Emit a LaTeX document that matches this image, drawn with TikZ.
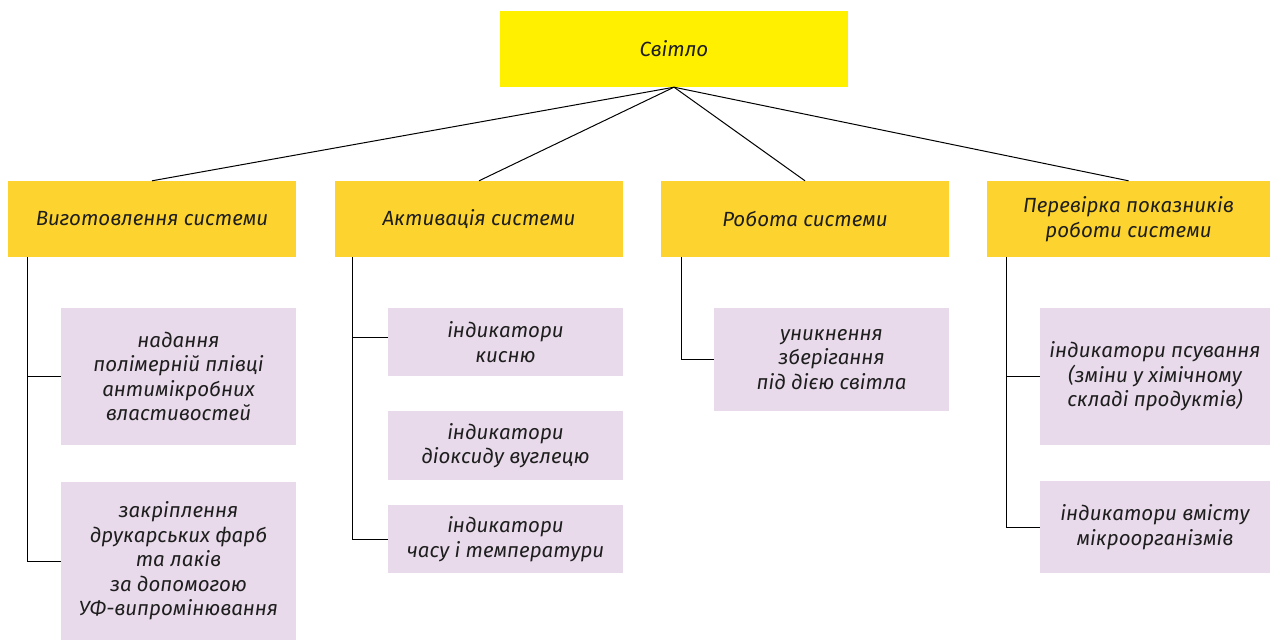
\documentclass[tikz,border=0pt]{standalone}
\usepackage{fontspec}
\setmainfont{Fira Sans}
\definecolor{topyel}{HTML}{FFF000}
\definecolor{secyel}{HTML}{FDD42F}
\definecolor{pinkbox}{HTML}{E8DAEA}
\definecolor{txt}{HTML}{1E1E1E}
\begin{document}
\begin{tikzpicture}[x=1pt,y=-1pt,
  base/.style={inner sep=0pt, align=center, text=txt, font=\fontsize{20.5}{24.5}\selectfont\itshape},
  topbox/.style={base, fill=topyel},
  secbox/.style={base, fill=secyel},
  leaf/.style={base, fill=pinkbox},
  link/.style={draw=black, line width=1pt}]
\useasboundingbox (0,0) rectangle (1270,640);
% top
\node[topbox, minimum width=348pt, minimum height=76pt] (top) at (674,49) {Світло};
% second row
\node[secbox, minimum width=288pt, minimum height=76pt] (b1) at (152,219) {Виготовлення системи};
\node[secbox, minimum width=288pt, minimum height=76pt] (b2) at (479,219) {Активація системи};
\node[secbox, minimum width=288pt, minimum height=76pt] (b3) at (805,219) {Робота системи};
\node[secbox, minimum width=283pt, minimum height=76pt] (b4) at (1128.5,219) {Перевірка показників\\роботи системи};
% leaves col 1
\node[leaf, minimum width=235pt, minimum height=137pt] (l1a) at (178.5,376.5) {надання\\полімерній плівці\\антимікробних\\властивостей};
\node[leaf, minimum width=235pt, minimum height=158pt] (l1b) at (178.5,561) {закріплення\\друкарських фарб\\та лаків\\за допомогою\\УФ-випромінювання};
% leaves col 2
\node[leaf, minimum width=235pt, minimum height=68pt] (l2a) at (505.5,342) {індикатори\\кисню};
\node[leaf, minimum width=235pt, minimum height=69pt] (l2b) at (505.5,445.5) {індикатори\\діоксиду вуглецю};
\node[leaf, minimum width=235pt, minimum height=68pt] (l2c) at (505.5,539) {індикатори\\часу і температури};
% leaves col 3
\node[leaf, minimum width=235pt, minimum height=103pt] (l3a) at (831.5,359.5) {уникнення\\зберігання\\під дією світла};
% leaves col 4
\node[leaf, minimum width=230pt, minimum height=137pt] (l4a) at (1155,376.5) {індикатори псування\\(зміни у хімічному\\складі продуктів)};
\node[leaf, minimum width=230pt, minimum height=92pt] (l4b) at (1155,527) {індикатори вмісту\\мікроорганізмів};
% connectors from top
\foreach \b in {b1,b2,b3,b4} \draw[link] (top.south) -- (\b.north);
% trunks
\draw[link] ([xshift=20pt]b1.south west) |- (l1b.west);
\draw[link] ([xshift=20pt]b1.south west) |- (l1a.west);
\draw[link] ([xshift=18pt]b2.south west) |- ([yshift=5pt]l2a.west);
\draw[link] ([xshift=18pt]b2.south west) |- (l2c.west);
\draw[link] ([xshift=21pt]b3.south west) |- (l3a.west);
\draw[link] ([xshift=20pt]b4.south west) |- (l4a.west);
\draw[link] ([xshift=20pt]b4.south west) |- (l4b.west);
\end{tikzpicture}
\end{document}
